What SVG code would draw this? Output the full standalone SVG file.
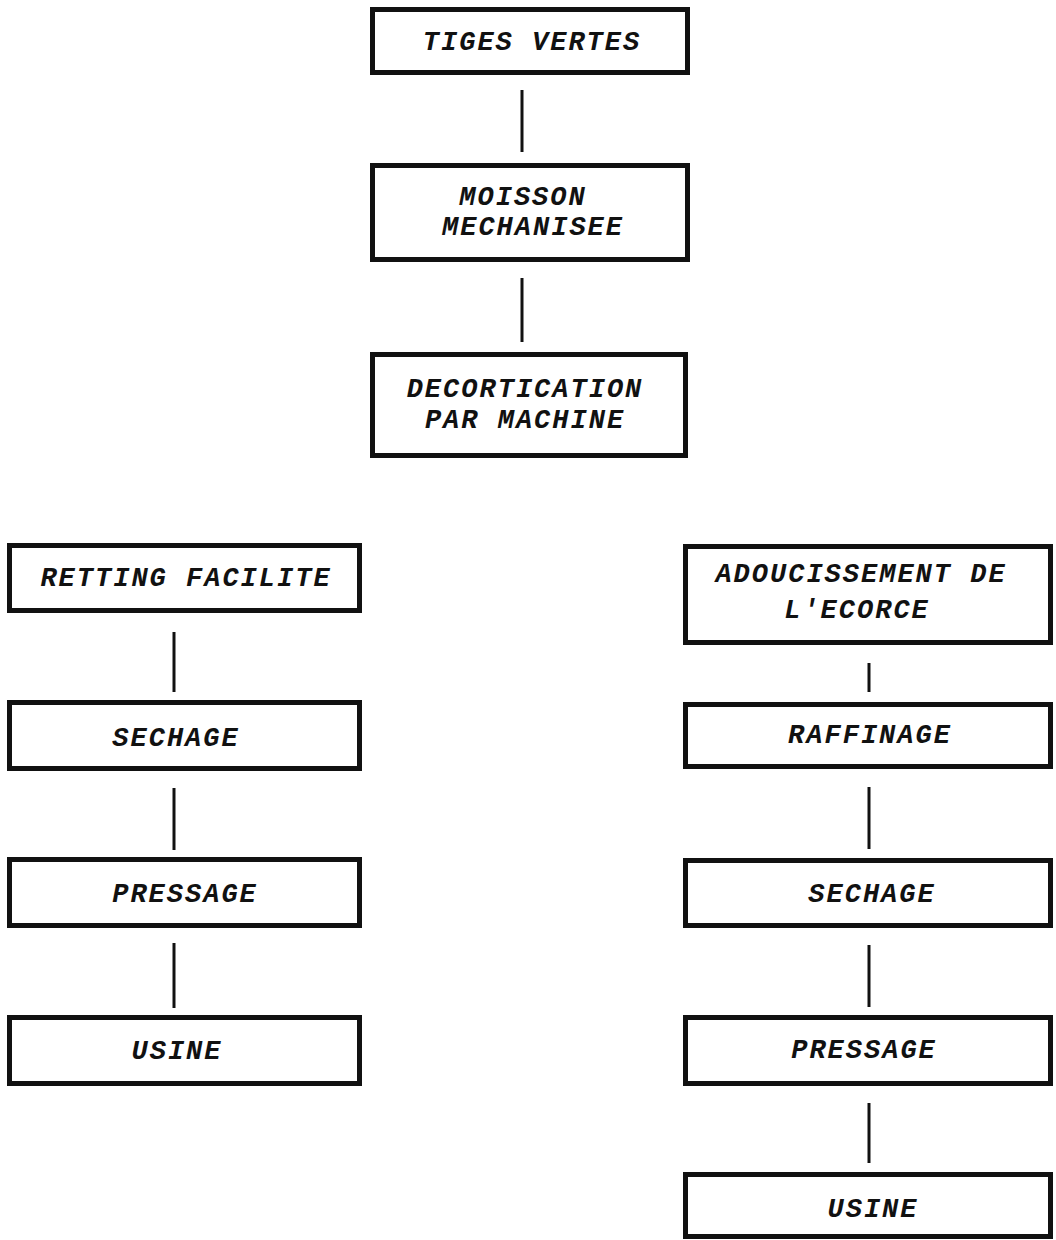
<svg xmlns="http://www.w3.org/2000/svg" width="1056" height="1240" viewBox="0 0 1056 1240">
<style>
.box{fill:#fff;stroke:#111;stroke-width:5}
.lbl{font-family:"Liberation Mono","Courier New",monospace;font-size:27px;font-style:italic;font-weight:bold;fill:#111;text-anchor:middle;letter-spacing:2px}
.con line{stroke:#111;stroke-width:3}
</style>
<rect width="1056" height="1240" fill="#fff"/>
<g class="con" id="connectors">
<line x1="522" y1="90" x2="522" y2="152"/>
<line x1="522" y1="278" x2="522" y2="342"/>
<line x1="174" y1="632" x2="174" y2="692"/>
<line x1="174" y1="788" x2="174" y2="850"/>
<line x1="174" y1="943" x2="174" y2="1008"/>
<line x1="869" y1="663" x2="869" y2="692"/>
<line x1="869" y1="787" x2="869" y2="849"/>
<line x1="869" y1="945" x2="869" y2="1007"/>
<line x1="869" y1="1103" x2="869" y2="1163"/>
</g>
<g id="n1"><rect class="box" x="372.5" y="9.5" width="315" height="63"/><text class="lbl" x="532" y="50">TIGES VERTES</text></g>
<g id="n2"><rect class="box" x="372.5" y="165.5" width="315" height="94"/><text class="lbl" x="523" y="205">MOISSON</text><text class="lbl" x="533" y="235">MECHANISEE</text></g>
<g id="n3"><rect class="box" x="372.5" y="354.5" width="313" height="101"/><text class="lbl" x="525" y="397">DECORTICATION</text><text class="lbl" x="525" y="428">PAR MACHINE</text></g>
<g id="n4"><rect class="box" x="9.5" y="545.5" width="350" height="65"/><text class="lbl" x="186" y="586">RETTING FACILITE</text></g>
<g id="n5"><rect class="box" x="9.5" y="702.5" width="350" height="66"/><text class="lbl" x="176" y="746">SECHAGE</text></g>
<g id="n6"><rect class="box" x="9.5" y="859.5" width="350" height="66"/><text class="lbl" x="185" y="902">PRESSAGE</text></g>
<g id="n7"><rect class="box" x="9.5" y="1017.5" width="350" height="66"/><text class="lbl" x="177" y="1059">USINE</text></g>
<g id="n8"><rect class="box" x="685.5" y="546.5" width="365" height="96"/><text class="lbl" x="861" y="582">ADOUCISSEMENT DE</text><text class="lbl" x="857" y="618">L'ECORCE</text></g>
<g id="n9"><rect class="box" x="685.5" y="704.5" width="365" height="62"/><text class="lbl" x="870" y="743">RAFFINAGE</text></g>
<g id="n10"><rect class="box" x="685.5" y="860.5" width="365" height="65"/><text class="lbl" x="872" y="902">SECHAGE</text></g>
<g id="n11"><rect class="box" x="685.5" y="1017.5" width="365" height="66"/><text class="lbl" x="864" y="1058">PRESSAGE</text></g>
<g id="n12"><rect class="box" x="685.5" y="1174.5" width="365" height="62"/><text class="lbl" x="873" y="1217">USINE</text></g>
</svg>
